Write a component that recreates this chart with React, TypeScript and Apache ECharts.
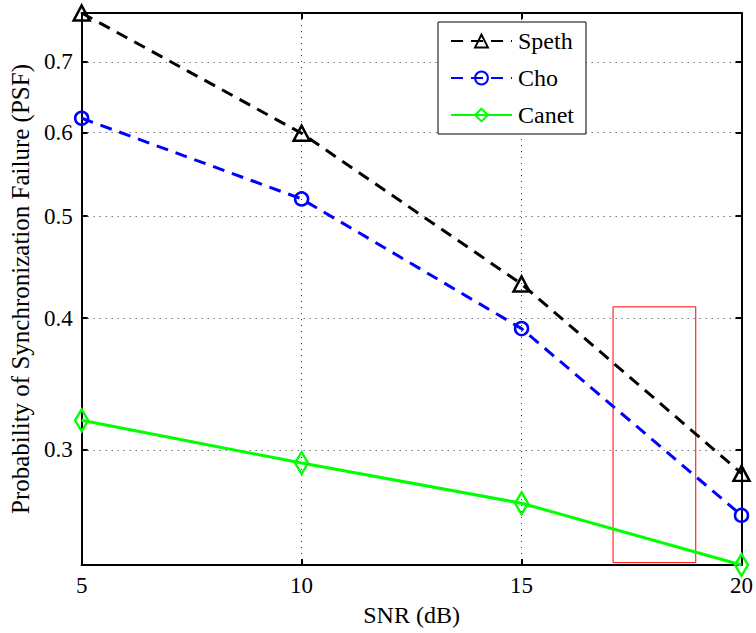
import React, { useEffect, useRef } from "react";
import * as echarts from "echarts";

const snr = [5, 10, 15, 20];
const speth = [0.779, 0.599, 0.431, 0.285];
const cho = [0.619, 0.519, 0.391, 0.26];
const canet = [0.32, 0.2915, 0.267, 0.2333];
const seriesNames = ["Speth", "Cho", "Canet"];
const yTicks = [0.3, 0.4, 0.5, 0.6, 0.7];
const xTicks = [5, 10, 15, 20];
const highlightX = [17.08, 18.96];
const highlightY = [0.2345, 0.41];

const FONT = "Liberation Serif";

export default function App() {
  const ref = useRef<HTMLDivElement>(null);

  useEffect(() => {
    if (!ref.current) return;
    const chart = echarts.init(ref.current, undefined, { renderer: "svg" });
    const all = [...speth, ...cho, ...canet];
    const yMin = Math.min(...all);
    const yMax = Math.max(...all);
    const xMin = Math.min(...xTicks);
    const xMax = Math.max(...xTicks);

    const toPairs = (vals: number[]) => snr.map((x, i) => [x, vals[i]]);

    const gridLine = { show: true, lineStyle: { color: "#333", width: 1, type: [1, 5] } };

    const option: any = {
      animation: false,
      backgroundColor: "#fff",
      textStyle: { fontFamily: FONT },
      grid: { left: 81, right: 12, top: 13, bottom: 68, containLabel: false },
      legend: {
        left: 438,
        top: 22,
        orient: "vertical",
        data: seriesNames,
        backgroundColor: "#fff",
        borderColor: "#000",
        borderWidth: 1,
        padding: [7, 12, 7, 12],
        itemWidth: 61,
        itemHeight: 16,
        itemGap: 13,
        textStyle: { fontFamily: FONT, fontSize: 24, color: "#000", padding: [0, 0, 0, 1] },
      },
      xAxis: [
        {
          type: "value",
          min: xMin,
          max: xMax,
          interval: 5,
          axisLine: { show: true, onZero: false, lineStyle: { color: "#000", width: 2 } },
          axisTick: { show: true, inside: true, length: 6, lineStyle: { color: "#000", width: 2 } },
          axisLabel: { fontFamily: FONT, fontSize: 23, color: "#000", margin: 9 },
          splitLine: gridLine,
          name: "SNR (dB)",
          nameLocation: "middle",
          nameGap: 38,
          nameTextStyle: { fontFamily: FONT, fontSize: 24, color: "#000" },
        },
        {
          type: "value",
          position: "top",
          min: xMin,
          max: xMax,
          interval: 5,
          axisLine: { show: true, onZero: false, lineStyle: { color: "#000", width: 2 } },
          axisTick: { show: true, inside: true, length: 6, lineStyle: { color: "#000", width: 2 } },
          axisLabel: { show: false },
          splitLine: { show: false },
        },
      ],
      yAxis: [
        {
          type: "log",
          min: yMin,
          max: yMax,
          axisLine: { show: true, onZero: false, lineStyle: { color: "#000", width: 2 } },
          axisTick: { show: true, inside: true, length: 6, customValues: yTicks, lineStyle: { color: "#000", width: 2 } },
          axisLabel: {
            fontFamily: FONT,
            fontSize: 23,
            color: "#000",
            margin: 9,
            customValues: yTicks,
            formatter: (v: number) => v.toFixed(1),
          },
          splitLine: gridLine,
          minorTick: { show: false },
          name: "Probability of Synchronization Failure (PSF)",
          nameLocation: "middle",
          nameGap: 45,
          nameTextStyle: { fontFamily: FONT, fontSize: 25, color: "#000" },
        },
        {
          type: "log",
          position: "right",
          min: yMin,
          max: yMax,
          axisLine: { show: true, onZero: false, lineStyle: { color: "#000", width: 2 } },
          axisTick: { show: true, inside: true, length: 6, customValues: yTicks, lineStyle: { color: "#000", width: 2 } },
          axisLabel: { show: false, customValues: yTicks },
          splitLine: { show: false },
        },
      ],
      series: [
        {
          name: seriesNames[0],
          type: "line",
          data: toPairs(speth),
          symbol: "triangle",
          symbolSize: [16, 15],
          lineStyle: { color: "#000", width: 3, type: [12, 8] },
          itemStyle: { color: "rgba(0,0,0,0)", borderColor: "#000", borderWidth: 2.5 },
          z: 3,
        },
        {
          name: seriesNames[1],
          type: "line",
          data: toPairs(cho),
          symbol: "circle",
          symbolSize: 13,
          lineStyle: { color: "#0000ff", width: 3, type: [12, 8] },
          itemStyle: { color: "rgba(0,0,0,0)", borderColor: "#0000ff", borderWidth: 2.5 },
          z: 3,
        },
        {
          name: seriesNames[2],
          type: "line",
          data: toPairs(canet),
          symbol: "diamond",
          symbolSize: [13, 22],
          lineStyle: { color: "#00ff00", width: 3, type: "solid" },
          itemStyle: { color: "rgba(0,0,0,0)", borderColor: "#00ff00", borderWidth: 2.5 },
          z: 3,
          markArea: {
            silent: true,
            itemStyle: { color: "rgba(0,0,0,0)", borderColor: "#ff0000", borderWidth: 1 },
            data: [[{ coord: [highlightX[0], highlightY[1]] }, { coord: [highlightX[1], highlightY[0]] }]],
          },
        },
      ],
    };
    chart.setOption(option);
    return () => chart.dispose();
  }, []);

  return <div ref={ref} style={{ width: 756, height: 633, position: "absolute", left: 0, top: 0 }} />;
}
